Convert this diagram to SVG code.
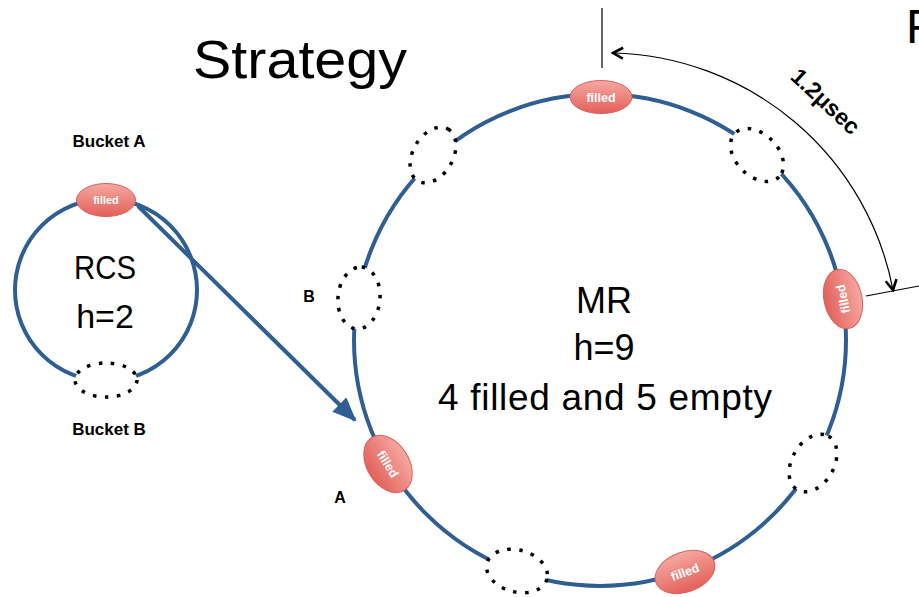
<svg xmlns="http://www.w3.org/2000/svg" width="919" height="597" viewBox="0 0 919 597">
<style>
.ring{fill:none;stroke:#2F5F92;stroke-width:4}
.dot{fill:#fff;stroke:#000;stroke-width:3.5;stroke-dasharray:3.5 8.5}
.fill{fill:url(#red);stroke:#D9625C;stroke-width:1}
.ft{font-family:"Liberation Sans",Arial,sans-serif;font-weight:bold;fill:#fff;text-anchor:middle}
.big{font-family:"Liberation Sans",Arial,sans-serif;fill:#000;text-anchor:middle}
.lbl{font-family:"Liberation Sans",Arial,sans-serif;font-weight:bold;fill:#000;text-anchor:middle}
.thin{fill:none;stroke:#000;stroke-width:1.2}
</style>
<defs>
<linearGradient id="red" x1="0" y1="0" x2="0" y2="1">
<stop offset="0" stop-color="#F7A8A2"/>
<stop offset="1" stop-color="#E2605A"/>
</linearGradient>
<marker id="chev" viewBox="0 0 14 14" refX="12" refY="7" markerWidth="14" markerHeight="14" markerUnits="userSpaceOnUse" orient="auto-start-reverse">
<path d="M2,1.5 L12,7 L2,12.5" fill="none" stroke="#000" stroke-width="2.6"/>
</marker>
<marker id="tri" viewBox="0 0 24 20" refX="22" refY="10" markerWidth="24" markerHeight="20" markerUnits="userSpaceOnUse" orient="auto">
<polygon points="0,0 24,10 0,20" fill="#2F5F92"/>
</marker>
</defs>

<text class="big" x="300" y="78" font-size="53" textLength="214" lengthAdjust="spacingAndGlyphs">Strategy</text>
<text x="906" y="43" font-family="Liberation Sans,Arial,sans-serif" font-size="48">F</text>

<g id="connectors">
<line x1="138" y1="206" x2="355" y2="420" stroke="#2F5F92" stroke-width="4" marker-end="url(#tri)"/>
<line class="thin" x1="602" y1="8" x2="602" y2="68"/>
<line class="thin" x1="866" y1="296" x2="919" y2="286"/>
<path class="thin" d="M 613 53 A 292 292 0 0 1 893 290" marker-start="url(#chev)" marker-end="url(#chev)"/>
</g>
<text class="lbl" x="825" y="109" font-size="23" transform="rotate(43 825 102)">1.2μsec</text>

<g id="rcs">
<circle class="ring" cx="106" cy="290" r="91"/>
<text class="big" x="105" y="279" font-size="33" textLength="62" lengthAdjust="spacingAndGlyphs">RCS</text>
<text class="big" x="105" y="328" font-size="34">h=2</text>
</g>
<g id="bucketA">
<ellipse class="fill" cx="106" cy="200" rx="29.5" ry="16.5"/>
<text class="ft" x="106" y="204" font-size="11">filled</text>
<text class="lbl" x="109" y="147" font-size="17">Bucket A</text>
</g>
<g id="bucketB">
<ellipse class="dot" cx="106" cy="380" rx="31" ry="17"/>
<text class="lbl" x="109" y="435" font-size="17">Bucket B</text>
</g>

<g id="mr">
<circle class="ring" cx="600" cy="340" r="246"/>
<text class="big" x="604" y="313" font-size="36">MR</text>
<text class="big" x="604" y="360" font-size="36">h=9</text>
<text class="big" x="605" y="410" font-size="37" textLength="334" lengthAdjust="spacing">4 filled and 5 empty</text>
</g>

<g id="slot-top">
<ellipse class="fill" cx="601" cy="97" rx="31" ry="16.5"/>
<text class="ft" x="601" y="101.5" font-size="12.5">filled</text>
</g>
<g id="slot-topright">
<ellipse class="dot" cx="757" cy="155" rx="31" ry="21" transform="rotate(45 757 155)"/>
</g>
<g id="slot-right">
<ellipse class="fill" cx="843" cy="299" rx="30" ry="19" transform="rotate(78 843 299)"/>
<text class="ft" x="843" y="303.5" font-size="12.5" transform="rotate(-102 843 299)">filled</text>
</g>
<g id="slot-rightlow">
<ellipse class="dot" cx="813" cy="463" rx="31" ry="21" transform="rotate(-60 813 463)"/>
</g>
<g id="slot-bottomright">
<ellipse class="fill" cx="685" cy="572" rx="31" ry="20" transform="rotate(-20 685 572)"/>
<text class="ft" x="685" y="576.5" font-size="12.5" transform="rotate(-20 685 572)">filled</text>
</g>
<g id="slot-bottom">
<ellipse class="dot" cx="517" cy="571" rx="31" ry="21" transform="rotate(15 517 571)"/>
</g>
<g id="slot-A">
<ellipse class="fill" cx="388" cy="464" rx="31" ry="21" transform="rotate(58 388 464)"/>
<text class="ft" x="388" y="468.5" font-size="12.5" transform="rotate(58 388 464)">filled</text>
<text class="lbl" x="340" y="503" font-size="16">A</text>
</g>
<g id="slot-B">
<ellipse class="dot" cx="359" cy="298" rx="31" ry="21" transform="rotate(-85 359 298)"/>
<text class="lbl" x="309" y="302" font-size="16">B</text>
</g>
<g id="slot-topleft">
<ellipse class="dot" cx="433" cy="155" rx="30" ry="20" transform="rotate(-60 433 155)"/>
</g>
</svg>
